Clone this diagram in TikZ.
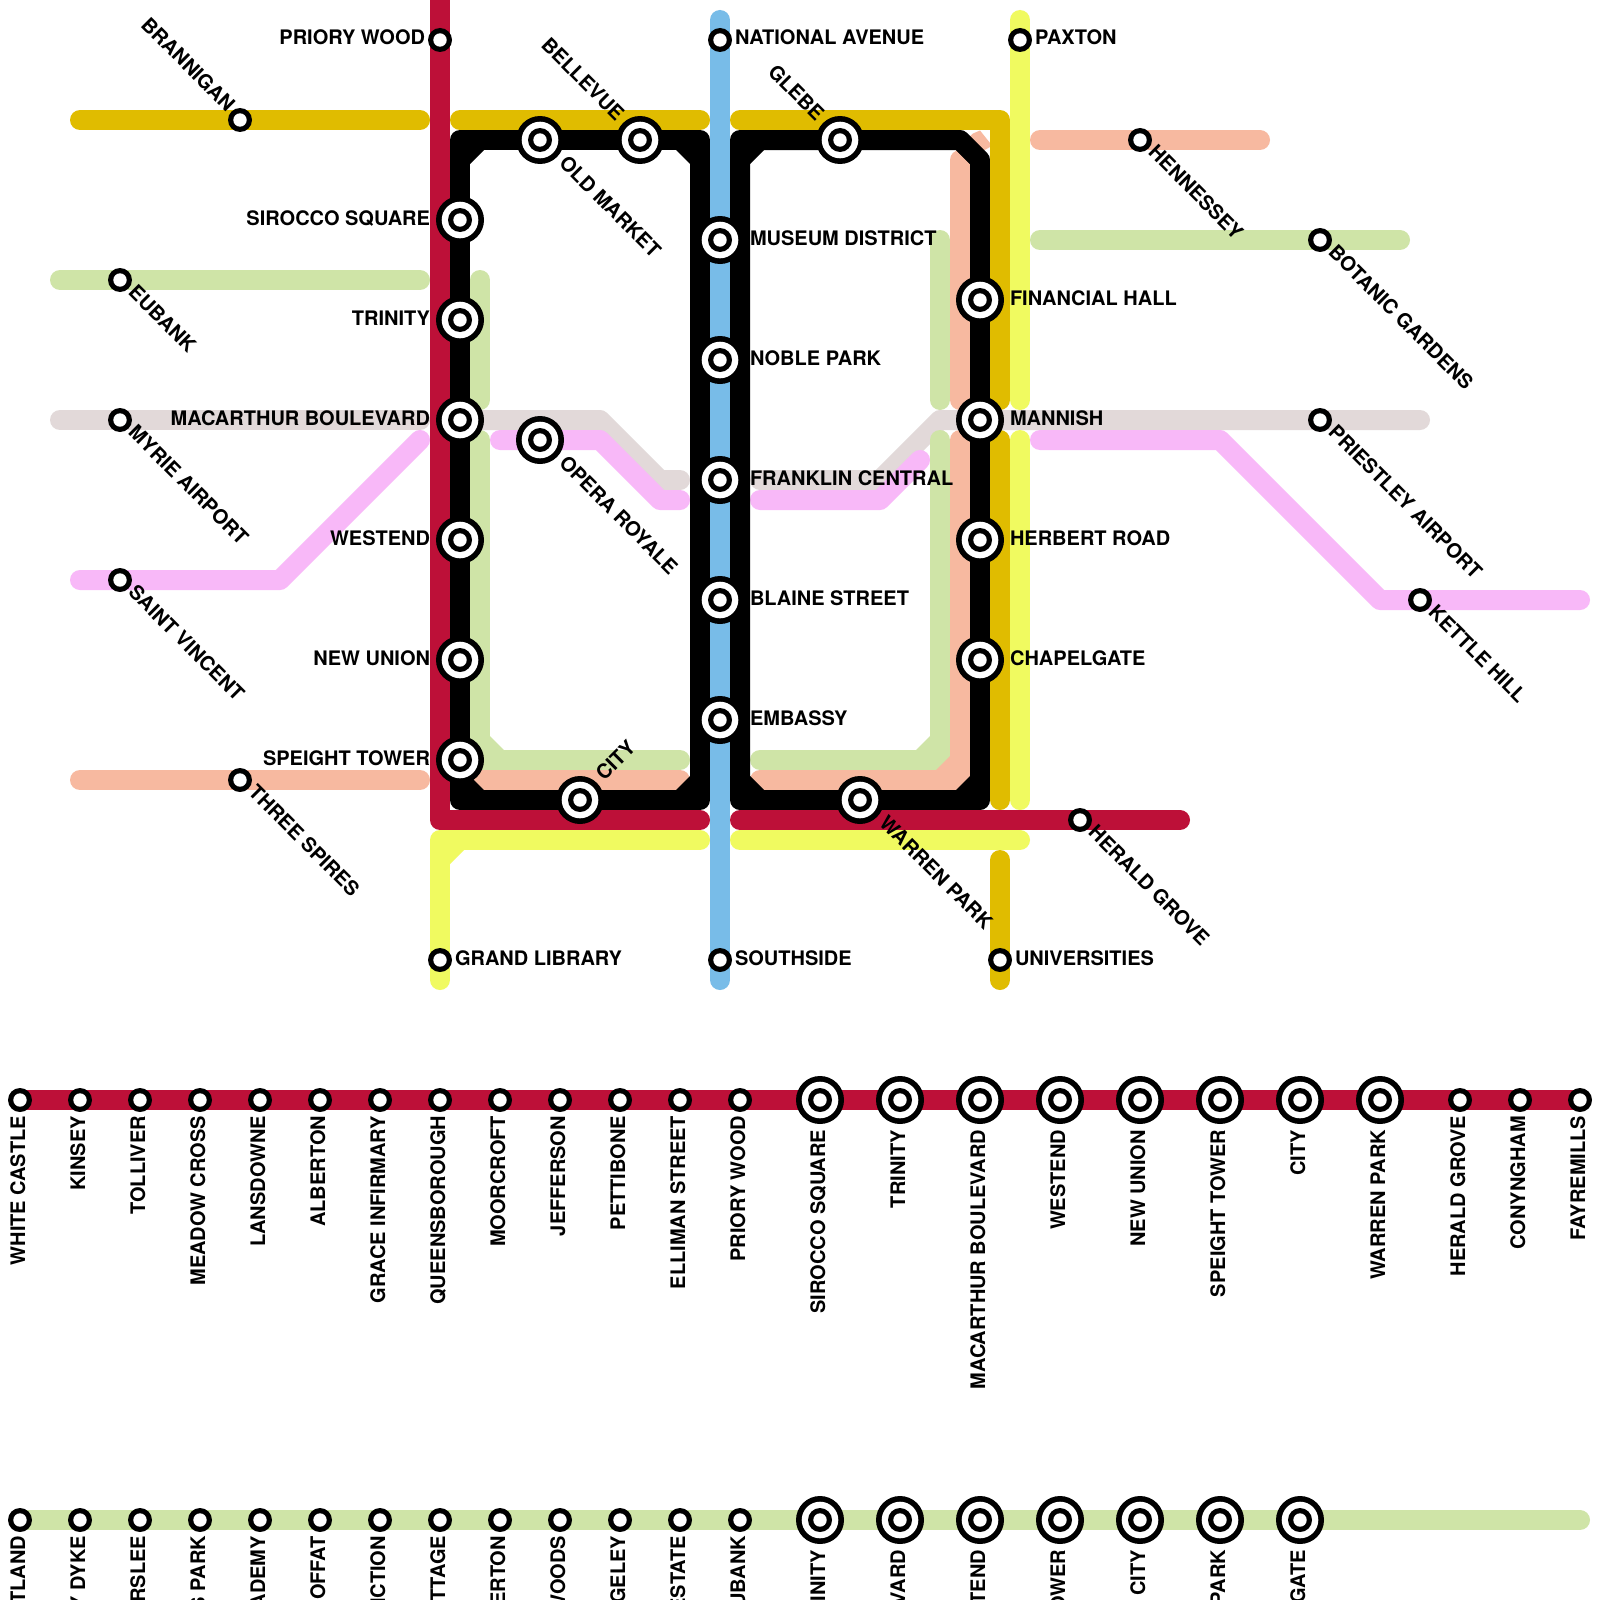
\documentclass[tikz,border=0pt]{standalone}
\usepackage{fontspec}
\setmainfont{TeX Gyre Heros}
\newcounter{lblc}
\tikzset{
  route/.style={line width=20pt,line cap=round,line join=round},
  lbl/.style={inner sep=0pt,outer sep=0pt,text=black,font=\fontsize{20}{24}\selectfont\bfseries},
}
\definecolor{cRed}{HTML}{BD1038}
\definecolor{cGold}{HTML}{E0BC00}
\definecolor{cBlue}{HTML}{78BCE8}
\definecolor{cGreen}{HTML}{CFE4A7}
\definecolor{cSalmon}{HTML}{F7B9A0}
\definecolor{cGray}{HTML}{E2D9D9}
\definecolor{cPink}{HTML}{F8B8F8}
\definecolor{cYellow}{HTML}{F0FA60}
% stations
\newcommand{\smallst}[2]{\fill[black] (#1,#2) circle (12); \fill[white] (#1,#2) circle (6.7);}
\newcommand{\bigst}[2]{\fill[black] (#1,#2) circle (24); \fill[white] (#1,#2) circle (18.3); \fill[black] (#1,#2) circle (12); \fill[white] (#1,#2) circle (6.7);}
% labels: text, x, y, offset
\newcommand{\lblR}[4]{\stepcounter{lblc}\node[lbl,anchor=base west] (t\thelblc) at ({#2+#4},{#3+5}) {#1};}
\newcommand{\lblL}[4]{\stepcounter{lblc}\node[lbl,anchor=base east] (t\thelblc) at ({#2-#4},{#3+5}) {#1};}
\newcommand{\lblDR}[4]{\stepcounter{lblc}\node[lbl,anchor=base west,rotate=-45] (t\thelblc) at ({#2+(#4-4.5)*.7071},{#3+(#4+4.5)*.7071}) {#1};}
\newcommand{\lblUL}[4]{\stepcounter{lblc}\node[lbl,anchor=base east,rotate=-45] (t\thelblc) at ({#2-(#4+4.5)*.7071},{#3-(#4-4.5)*.7071}) {#1};}
\newcommand{\lblUR}[4]{\stepcounter{lblc}\node[lbl,anchor=base west,rotate=45] (t\thelblc) at ({#2+(#4+4.5)*.7071},{#3-(#4-4.5)*.7071}) {#1};}
\newcommand{\lblV}[4]{\stepcounter{lblc}\node[lbl,anchor=base east,rotate=90] (t\thelblc) at ({#2+5},{#3+#4}) {#1};}
\begin{document}
\begin{tikzpicture}[x=1pt,y=-1pt]
\clip (0,0) rectangle (1600,1600);
\fill[white] (0,0) rectangle (1600,1600);
% gray
\draw[route,cGray] (60,420) -- (420,420);
\draw[route,cGray] (480,420) -- (600,420) -- (660,480) -- (680,480);
\draw[route,cGray] (760,480) -- (880,480) -- (940,420) -- (1420,420);
% pink
\draw[route,cPink] (80,580) -- (280,580) -- (420,440);
\draw[route,cPink] (500,440) -- (600,440) -- (660,500) -- (680,500);
\draw[route,cPink] (760,500) -- (880,500) -- (920,460);
\draw[route,cPink] (1040,440) -- (1220,440) -- (1380,600) -- (1580,600);
% green
\draw[route,cGreen] (60,280) -- (420,280);
\draw[route,cGreen] (1040,240) -- (1400,240);
\draw[route,cGreen] (480,280) -- (480,400);
\draw[route,cGreen] (480,440) -- (480,760) -- (680,760);
\fill[cGreen] (490,736) -- (504,750) -- (490,750) -- cycle;
\draw[route,cGreen] (940,240) -- (940,400);
\draw[route,cGreen] (940,440) -- (940,760) -- (760,760);
\fill[cGreen] (930,736) -- (916,750) -- (930,750) -- cycle;
% salmon
\draw[route,cSalmon] (80,780) -- (420,780);
\draw[route,cSalmon] (1040,140) -- (1260,140);
\draw[route,cSalmon] (480,780) -- (680,780);
\draw[route,cSalmon] (960,160) -- (960,400);
\fill[cSalmon] (968,138) -- (973,133.5) -- (980,130.5) -- (990,143) -- (990,147) -- (983,151) -- (975,152) -- cycle;
\draw[route,cSalmon] (960,440) -- (960,780) -- (760,780);
\fill[cSalmon] (950,756) -- (936,770) -- (950,770) -- cycle;
% yellow
\draw[route,cYellow] (1020,20) -- (1020,400);
\draw[route,cYellow] (1020,440) -- (1020,800);
\draw[route,cYellow] (440,980) -- (440,840) -- (700,840);
\fill[cYellow] (450,864) -- (464,850) -- (450,850) -- cycle;
\draw[route,cYellow] (740,840) -- (1020,840);
% blue
\draw[route,cBlue] (720,20) -- (720,980);
% black
\draw[route,black] (460,140) -- (700,140) -- (700,800) -- (460,800) -- cycle;
\draw[route,black] (740,140) -- (960,140) -- (980,160) -- (980,800) -- (740,800) -- cycle;
\fill[black] (470,150) -- (470,164) -- (484,150) -- cycle;
\fill[black] (690,150) -- (690,164) -- (676,150) -- cycle;
\fill[black] (750,150) -- (750,164) -- (764,150) -- cycle;
\fill[black] (470,790) -- (470,776) -- (484,790) -- cycle;
\fill[black] (690,790) -- (690,776) -- (676,790) -- cycle;
\fill[black] (750,790) -- (750,776) -- (764,790) -- cycle;
\fill[black] (970,790) -- (970,776) -- (956,790) -- cycle;
\fill[black] (970,150) -- (970,164) -- (956,150) -- cycle;
% gold
\draw[route,cGold] (80,120) -- (420,120);
\draw[route,cGold] (460,120) -- (700,120);
\draw[route,cGold] (740,120) -- (1000,120) -- (1000,400);
\draw[route,cGold] (1000,440) -- (1000,800);
\draw[route,cGold] (1000,860) -- (1000,980);
% red
\draw[route,cRed] (440,-20) -- (440,820) -- (700,820);
\draw[route,cRed] (740,820) -- (1180,820);
% rows
\draw[route,cRed] (20,1100) -- (1580,1100);
\draw[route,cGreen] (20,1520) -- (1580,1520);
% stations of the map
\smallst{440}{40}\smallst{720}{40}\smallst{1020}{40}\smallst{240}{120}
\smallst{120}{280}\smallst{120}{420}\smallst{120}{580}\smallst{240}{780}
\smallst{1140}{140}\smallst{1320}{240}\smallst{1320}{420}\smallst{1420}{600}
\smallst{1080}{820}\smallst{440}{960}\smallst{720}{960}\smallst{1000}{960}
\bigst{540}{140}\bigst{640}{140}\bigst{840}{140}
\bigst{460}{220}\bigst{460}{320}\bigst{460}{420}\bigst{460}{540}\bigst{460}{660}\bigst{460}{760}
\bigst{580}{800}\bigst{540}{440}
\bigst{720}{240}\bigst{720}{360}\bigst{720}{480}\bigst{720}{600}\bigst{720}{720}
\bigst{980}{300}\bigst{980}{420}\bigst{980}{540}\bigst{980}{660}\bigst{860}{800}
% row stations
\foreach \x in {20,80,...,740,1460,1520,1580} {\smallst{\x}{1100}}
\foreach \x in {820,900,...,1380} {\bigst{\x}{1100}}
\foreach \x in {20,80,...,740} {\smallst{\x}{1520}}
\foreach \x in {820,900,...,1300} {\bigst{\x}{1520}}
% labels
\lblL{PRIORY WOOD}{440}{40}{15}
\lblR{NATIONAL AVENUE}{720}{40}{15}
\lblR{PAXTON}{1020}{40}{15}
\lblUL{BRANNIGAN}{240}{120}{15}
\lblUL{BELLEVUE}{640}{140}{30}
\lblUL{GLEBE}{840}{140}{30}
\lblDR{OLD MARKET}{540}{140}{30}
\lblDR{HENNESSEY}{1140}{140}{15}
\lblDR{BOTANIC GARDENS}{1320}{240}{15}
\lblDR{PRIESTLEY AIRPORT}{1320}{420}{15}
\lblDR{KETTLE HILL}{1420}{600}{15}
\lblDR{EUBANK}{120}{280}{15}
\lblDR{MYRIE AIRPORT}{120}{420}{15}
\lblDR{SAINT VINCENT}{120}{580}{15}
\lblDR{THREE SPIRES}{240}{780}{15}
\lblDR{OPERA ROYALE}{540}{440}{30}
\lblDR{WARREN PARK}{860}{800}{30}
\lblDR{HERALD GROVE}{1080}{820}{15}
\lblUR{CITY}{580}{800}{30}
\lblL{SIROCCO SQUARE}{460}{220}{30}
\lblL{TRINITY}{460}{320}{30}
\lblL{MACARTHUR BOULEVARD}{460}{420}{30}
\lblL{WESTEND}{460}{540}{30}
\lblL{NEW UNION}{460}{660}{30}
\lblL{SPEIGHT TOWER}{460}{760}{30}
\lblR{MUSEUM DISTRICT}{720}{240}{30}
\lblR{NOBLE PARK}{720}{360}{30}
\lblR{FRANKLIN CENTRAL}{720}{480}{30}
\lblR{BLAINE STREET}{720}{600}{30}
\lblR{EMBASSY}{720}{720}{30}
\lblR{FINANCIAL HALL}{980}{300}{30}
\lblR{MANNISH}{980}{420}{30}
\lblR{HERBERT ROAD}{980}{540}{30}
\lblR{CHAPELGATE}{980}{660}{30}
\lblR{GRAND LIBRARY}{440}{960}{15}
\lblR{SOUTHSIDE}{720}{960}{15}
\lblR{UNIVERSITIES}{1000}{960}{15}
% red row labels
\lblV{WHITE CASTLE}{20}{1100}{16}
\lblV{KINSEY}{80}{1100}{16}
\lblV{TOLLIVER}{140}{1100}{16}
\lblV{MEADOW CROSS}{200}{1100}{16}
\lblV{LANSDOWNE}{260}{1100}{16}
\lblV{ALBERTON}{320}{1100}{16}
\lblV{GRACE INFIRMARY}{380}{1100}{16}
\lblV{QUEENSBOROUGH}{440}{1100}{16}
\lblV{MOORCROFT}{500}{1100}{16}
\lblV{JEFFERSON}{560}{1100}{16}
\lblV{PETTIBONE}{620}{1100}{16}
\lblV{ELLIMAN STREET}{680}{1100}{16}
\lblV{PRIORY WOOD}{740}{1100}{16}
\lblV{SIROCCO SQUARE}{820}{1100}{30}
\lblV{TRINITY}{900}{1100}{30}
\lblV{MACARTHUR BOULEVARD}{980}{1100}{30}
\lblV{WESTEND}{1060}{1100}{30}
\lblV{NEW UNION}{1140}{1100}{30}
\lblV{SPEIGHT TOWER}{1220}{1100}{30}
\lblV{CITY}{1300}{1100}{30}
\lblV{WARREN PARK}{1380}{1100}{30}
\lblV{HERALD GROVE}{1460}{1100}{16}
\lblV{CONYNGHAM}{1520}{1100}{16}
\lblV{FAYREMILLS}{1580}{1100}{16}
% green row labels (cut by the picture edge)
\lblV{TLAND}{20}{1520}{16}
\lblV{Y DYKE}{80}{1520}{16}
\lblV{RSLEE}{140}{1520}{16}
\lblV{S PARK}{200}{1520}{16}
\lblV{ADEMY}{260}{1520}{16}
\lblV{OFFAT}{320}{1520}{16}
\lblV{ICTION}{380}{1520}{16}
\lblV{TTAGE}{440}{1520}{16}
\lblV{ERTON}{500}{1520}{16}
\lblV{WOODS}{560}{1520}{16}
\lblV{GELEY}{620}{1520}{16}
\lblV{ESTATE}{680}{1520}{16}
\lblV{UBANK}{740}{1520}{16}
\lblV{INITY}{820}{1520}{30}
\lblV{VARD}{900}{1520}{30}
\lblV{TEND}{980}{1520}{30}
\lblV{OWER}{1060}{1520}{30}
\lblV{CITY}{1140}{1520}{30}
\lblV{PARK}{1220}{1520}{30}
\lblV{GATE}{1300}{1520}{30}
\end{tikzpicture}
\end{document}
